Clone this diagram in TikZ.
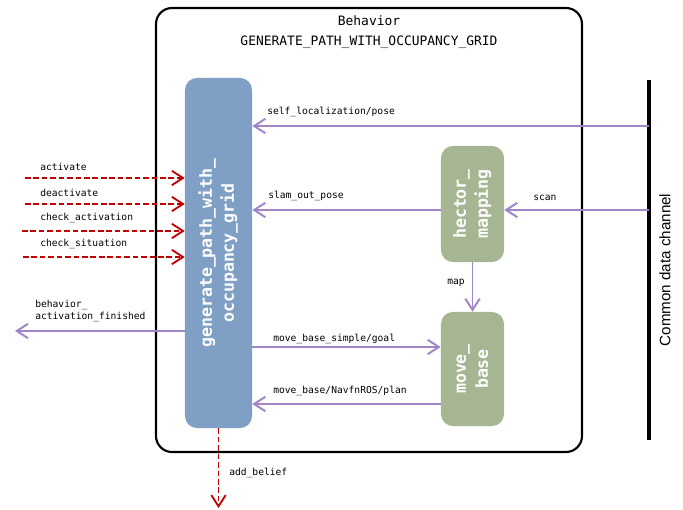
\documentclass[tikz,border=0pt]{standalone}
\usepackage{fontspec}
\setmainfont{Liberation Sans}
\setmonofont{DejaVu Sans Mono}
\usetikzlibrary{arrows.meta}
\usetikzlibrary{calc}

\definecolor{procblue}{RGB}{127,160,196}
\definecolor{procgreen}{RGB}{166,181,146}
\definecolor{topicpurple}{RGB}{160,134,200}
\definecolor{eventred}{RGB}{192,0,0}

\tikzset{
    proc/.style={rounded corners=0.3cm, text=white, inner sep=0pt,
        font=\fontsize{11.8}{15.6}\selectfont\ttfamily\bfseries},
    topic/.style={draw=topicpurple, line width=1.4pt,
        -{Straight Barb[length=0.28cm,width=0.36cm]}},
    event/.style={draw=eventred, line width=1.3pt, dash pattern=on 4pt off 2pt,
        -{Straight Barb[length=0.28cm,width=0.36cm]}},
    lbl/.style={font=\fontsize{6.85}{8.6}\selectfont\ttfamily, inner sep=0pt, anchor=west},
}

\begin{document}
\begin{tikzpicture}[x=0.025cm, y=-0.025cm]
    \useasboundingbox (0,0) rectangle (683,510);

    % behavior frame
    \draw[line width=1.5pt, rounded corners=0.4cm] (156,8) rectangle (582,452);
    \node[align=center, font=\fontsize{9.2}{14.2}\selectfont\ttfamily] (title) at (369,32)
        {Behavior\\GENERATE\_PATH\_WITH\_OCCUPANCY\_GRID};

    % processes
    \node[proc, fill=procblue, minimum width=1.675cm, minimum height=8.75cm] (gen) at (218.5,253)
        {\rotatebox{90}{\begin{tabular}{@{}c@{}}generate\_path\_with\_\\occupancy\_grid\end{tabular}}};
    \node[proc, fill=procgreen, minimum width=1.575cm, minimum height=2.9cm] (hector) at (472.5,204)
        {\rotatebox{90}{\begin{tabular}{@{}c@{}}hector\_\\mapping\end{tabular}}};
    \node[proc, fill=procgreen, minimum width=1.575cm, minimum height=2.85cm] (mvb) at (472.5,369)
        {\rotatebox{90}{\begin{tabular}{@{}c@{}}move\_\\base\end{tabular}}};

    % common data channel
    \coordinate (cdc-top) at (649,80);
    \coordinate (cdc-bot) at (649,440);
    \draw[line width=3.5pt] (cdc-top) -- (cdc-bot);
    \node[rotate=90, font=\fontsize{10.8}{13}\selectfont] (cdc) at (665,270) {Common data channel};
    \coordinate (cdc-pose) at (649,126);
    \coordinate (cdc-scan) at (649,210);

    % topics
    \draw[topic] (cdc-pose) -- (gen.east |- cdc-pose);
    \node[lbl] (l-pose) at (267,112) {self\_localization/pose};
    \draw[topic] (cdc-scan) -- (hector.east |- cdc-scan);
    \node[lbl] (l-scan) at (533,198) {scan};
    \draw[topic] (hector.west |- cdc-scan) -- (gen.east |- cdc-scan);
    \node[lbl] (l-slam) at (268,196) {slam\_out\_pose};
    \draw[topic] (hector.south) -- (mvb.north);
    \node[lbl] (l-map) at (447,283) {map};
    \draw[topic] (gen.east |- 0,347) -- (mvb.west |- 0,347);
    \node[lbl] (l-goal) at (273,339) {move\_base\_simple/goal};
    \draw[topic] (mvb.west |- 0,404) -- (gen.east |- 0,404);
    \node[lbl] (l-plan) at (273,391) {move\_base/NavfnROS/plan};

    % events in and out
    \coordinate (in-act) at (25,178);
    \coordinate (in-deact) at (25,204);
    \coordinate (in-check) at (22,231);
    \coordinate (in-sit) at (23,257);
    \coordinate (out-fin) at (15,331);
    \coordinate (out-belief) at (218.5,508);
    \draw[event] (in-act) -- (gen.west |- in-act);
    \node[lbl] (l-act) at (40,167) {activate};
    \draw[event] (in-deact) -- (gen.west |- in-deact);
    \node[lbl] (l-deact) at (40,193) {deactivate};
    \draw[event] (in-check) -- (gen.west |- in-check);
    \node[lbl] (l-check) at (40,218) {check\_activation};
    \draw[event] (in-sit) -- (gen.west |- in-sit);
    \node[lbl] (l-sit) at (40,244) {check\_situation};
    \draw[topic] (gen.west |- out-fin) -- (out-fin);
    \node[lbl, align=left] (l-fin) at (35,311) {behavior\_\\activation\_finished};
    \draw[event] (gen.south) -- (out-belief);
    \node[lbl] (l-belief) at (229,473) {add\_belief};
\end{tikzpicture}
\end{document}
